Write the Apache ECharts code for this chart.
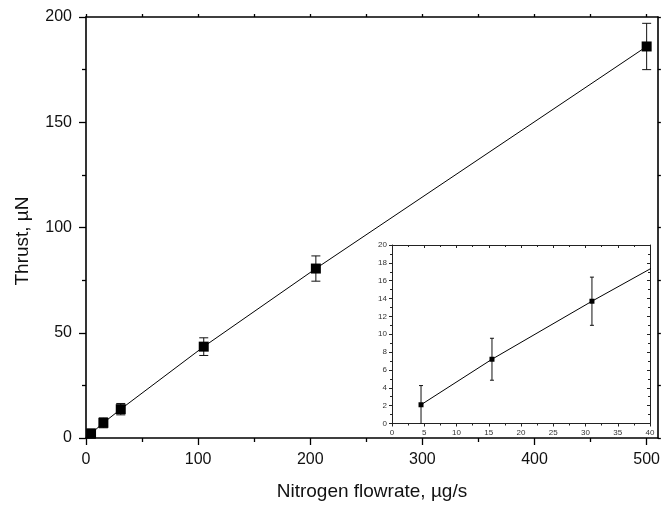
<!DOCTYPE html>
<html>
<head>
<meta charset="utf-8">
<script src="https://cdn.jsdelivr.net/npm/echarts@6/dist/echarts.min.js"></script>
<style>
html,body{margin:0;padding:0;background:#fff;}
#chart{width:663px;height:506px;}
</style>
</head>
<body>
<div id="chart"></div>
<script>
// Data
const flowrate = [4.5, 15.5, 31, 105, 205, 500];      // µg/s
const thrust   = [2.1, 7.2, 13.7, 43.4, 80.5, 186];   // µN
const thrustErr = [2.15, 2.35, 2.7, 4.2, 6, 11];      // ± µN

// Axis ranges / tick steps
const mainX = [0, 510, 100];
const mainY = [0, 200, 50];
const insetX = [0, 40, 5];
const insetY = [0, 20, 2];
const mainXTicks = [0, 100, 200, 300, 400, 500];

const xTitle = 'Nitrogen flowrate, µg/s';
const yTitle = 'Thrust, µN';

const FONT = 'Liberation Sans, Arial, sans-serif';

const pts = flowrate.map((x, i) => [x, thrust[i]]);
const errs = flowrate.map((x, i) => [x, thrust[i] - thrustErr[i], thrust[i] + thrustErr[i]]);
const insetErrs = errs.filter(d => d[0] <= insetX[1]);

function errRender(capHalf) {
  return function (params, api) {
    const x = api.value(0), lo = api.value(1), hi = api.value(2);
    const a = api.coord([x, lo]), b = api.coord([x, hi]);
    const st = { stroke: '#111', lineWidth: 1 };
    return {
      type: 'group',
      children: [
        { type: 'line', shape: { x1: a[0], y1: a[1], x2: b[0], y2: b[1] }, style: st },
        { type: 'line', shape: { x1: a[0] - capHalf, y1: a[1], x2: a[0] + capHalf, y2: a[1] }, style: st },
        { type: 'line', shape: { x1: b[0] - capHalf, y1: b[1], x2: b[0] + capHalf, y2: b[1] }, style: st }
      ]
    };
  };
}

function axisBase(range, opts) {
  return Object.assign({
    type: 'value', min: range[0], max: range[1], interval: range[2],
    splitLine: { show: false },
    axisLine: { show: true, onZero: false, lineStyle: { color: '#000', width: 1.6 } },
    axisTick: { show: true, inside: false, length: 7, lineStyle: { color: '#000', width: 1.3 } },
    minorTick: { show: true, splitNumber: 2, length: 4, lineStyle: { color: '#000', width: 1.3 } },
    axisLabel: { show: true, color: '#111', fontFamily: FONT, fontSize: 16, margin: 14, showMaxLabel: range[1] % range[2] === 0 }
  }, opts || {});
}

function insetAxis(range, opts) {
  return Object.assign({
    type: 'value', min: range[0], max: range[1], interval: range[2],
    splitLine: { show: false },
    axisLine: { show: true, onZero: false, lineStyle: { color: '#222', width: 1 } },
    axisTick: { show: true, inside: false, length: 3, lineStyle: { color: '#222', width: 1 } },
    minorTick: { show: true, splitNumber: 2, length: 2, lineStyle: { color: '#222', width: 1 } },
    axisLabel: { show: true, color: '#333', fontFamily: FONT, fontSize: 8, margin: 5 }
  }, opts || {});
}

const chart = echarts.init(document.getElementById('chart'), null, { renderer: 'canvas' });
chart.setOption({
  animation: false,
  backgroundColor: '#fff',
  grid: [
    { left: 86, top: 17, right: 2, bottom: 66, containLabel: false },
    { left: 392, top: 245, right: 13, bottom: 82.5, containLabel: false, show: true, backgroundColor: '#fff', borderWidth: 0, z: 5 }
  ],
  xAxis: [
    axisBase(mainX, { gridIndex: 0, position: 'bottom',
      axisTick: { show: true, inside: false, length: 7, customValues: mainXTicks, lineStyle: { color: '#000', width: 1.3 } },
      axisLabel: { show: true, color: '#111', fontFamily: FONT, fontSize: 16, margin: 14, customValues: mainXTicks },
      name: xTitle, nameLocation: 'middle', nameGap: 44,
      nameTextStyle: { color: '#111', fontFamily: FONT, fontSize: 19 } }),
    axisBase(mainX, { gridIndex: 0, position: 'top', axisLabel: { show: false },
      axisTick: { show: true, inside: false, length: 3, customValues: mainXTicks, lineStyle: { color: '#000', width: 1.3 } },
      minorTick: { show: true, splitNumber: 2, length: 3, lineStyle: { color: '#000', width: 1.3 } } }),
    insetAxis(insetX, { gridIndex: 1, position: 'bottom', z: 6 }),
    insetAxis(insetX, { gridIndex: 1, position: 'top', z: 6, axisLabel: { show: false },
      axisTick: { show: true, inside: true, length: 3, lineStyle: { color: '#222' } },
      minorTick: { show: true, inside: true, splitNumber: 2, length: 2, lineStyle: { color: '#222' } } })
  ],
  yAxis: [
    axisBase(mainY, { gridIndex: 0, position: 'left' }),
    axisBase(mainY, { gridIndex: 0, position: 'right', axisLabel: { show: false },
      axisTick: { show: true, inside: false, length: 3, lineStyle: { color: '#000', width: 1.3 } },
      minorTick: { show: true, splitNumber: 2, length: 3, lineStyle: { color: '#000', width: 1.3 } } }),
    insetAxis(insetY, { gridIndex: 1, position: 'left', z: 6 }),
    insetAxis(insetY, { gridIndex: 1, position: 'right', z: 6, axisLabel: { show: false },
      axisTick: { show: true, inside: true, length: 3, lineStyle: { color: '#222' } },
      minorTick: { show: true, inside: true, splitNumber: 2, length: 2, lineStyle: { color: '#222' } } })
  ],
  graphic: [
    { type: 'text', x: 23, y: 241, rotation: Math.PI / 2,
      style: { text: yTitle, fill: '#111', font: '19px ' + FONT, align: 'center', verticalAlign: 'middle' } }
  ],
  series: [
    { type: 'custom', xAxisIndex: 0, yAxisIndex: 0, renderItem: errRender(4.5), data: errs, z: 2, silent: true },
    { type: 'line', xAxisIndex: 0, yAxisIndex: 0, data: pts, symbol: 'rect', symbolSize: 10,
      itemStyle: { color: '#000' }, lineStyle: { color: '#000', width: 1 }, z: 3, silent: true },
    { type: 'custom', xAxisIndex: 2, yAxisIndex: 2, renderItem: errRender(2), data: insetErrs, z: 7, silent: true, clip: true },
    { type: 'line', xAxisIndex: 2, yAxisIndex: 2, data: pts, symbol: 'rect', symbolSize: 5, clip: true,
      itemStyle: { color: '#000' }, lineStyle: { color: '#000', width: 1 }, z: 8, silent: true }
  ]
});
</script>
</body>
</html>
